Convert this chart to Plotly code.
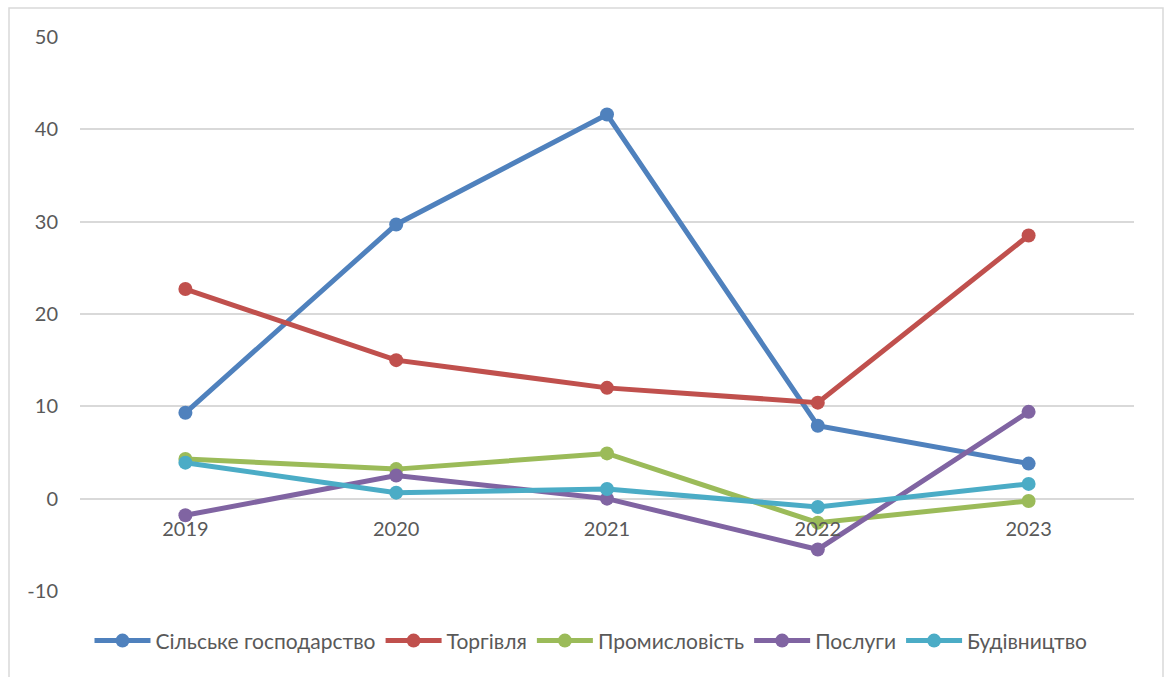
import plotly.graph_objects as go

years = ["2019", "2020", "2021", "2022", "2023"]

agriculture = [9.3, 29.7, 41.6, 7.9, 3.8]
trade = [22.7, 15.0, 12.0, 10.4, 28.5]
industry = [4.3, 3.2, 4.9, -2.6, -0.25]
services = [-1.8, 2.5, 0.0, -5.5, 9.4]
construction = [3.9, 0.65, 1.05, -0.9, 1.6]

series_names = ["Сільське господарство", "Торгівля", "Промисловість", "Послуги", "Будівництво"]
series_values = [agriculture, trade, industry, services, construction]
colors = ["#4F81BD", "#C0504D", "#9BBB59", "#8064A2", "#4BACC6"]

y_ticks = [-10, 0, 10, 20, 30, 40, 50]
y_tick_labels = ["-10", "0", "10", "20", "30", "40", "50"]

FONT = "Lato"
TEXT = "#595959"
GRID = "#D9D9D9"

fig = go.Figure()
for name, vals, col in zip(series_names, series_values, colors):
    fig.add_trace(go.Scatter(
        x=years, y=vals, name=name, mode="lines+markers",
        line=dict(color=col, width=5),
        marker=dict(color=col, size=14),
    ))

# plot area spans pixels 80..1134 horizontally and 36.5..591 vertically
W, H = 1168, 677
L, R, T, B = 80, 1134, 36.5, 591
pw, ph = R - L, B - T

def px(x):
    return (x - L) / pw

def py(y):
    return (B - y) / ph

fig.update_layout(
    width=W, height=H,
    margin=dict(l=L, r=W - R, t=T, b=H - B, pad=0),
    paper_bgcolor="white", plot_bgcolor="white",
    font=dict(family=FONT, size=20, color=TEXT),
    showlegend=True,
    legend=dict(
        orientation="h", x=px(591), xanchor="center", y=py(641), yanchor="middle",
        font=dict(family=FONT, size=21, color=TEXT),
        itemwidth=56, tracegroupgap=0, bgcolor="rgba(0,0,0,0)",
    ),
    xaxis=dict(
        type="category", range=[-0.5, 4.5],
        showgrid=False, showline=False, zeroline=False,
        anchor="free", position=1 / 6,
        ticks="", ticklabelstandoff=16,
        tickfont=dict(family=FONT, size=20, color=TEXT),
    ),
    yaxis=dict(
        range=[-10, 50], tickmode="array", tickvals=y_ticks, ticktext=y_tick_labels,
        showgrid=True, gridcolor=GRID, gridwidth=1.5,
        zeroline=False, showline=False, ticks="",
        ticklabelstandoff=21,
        tickfont=dict(family=FONT, size=20, color=TEXT),
    ),
    shapes=[dict(
        type="rect", xref="paper", yref="paper",
        x0=px(9), x1=px(1163), y0=py(700), y1=py(7.5),
        line=dict(color=GRID, width=1.5), fillcolor="rgba(0,0,0,0)", layer="below",
    )],
)

fig.write_html("out.html")
